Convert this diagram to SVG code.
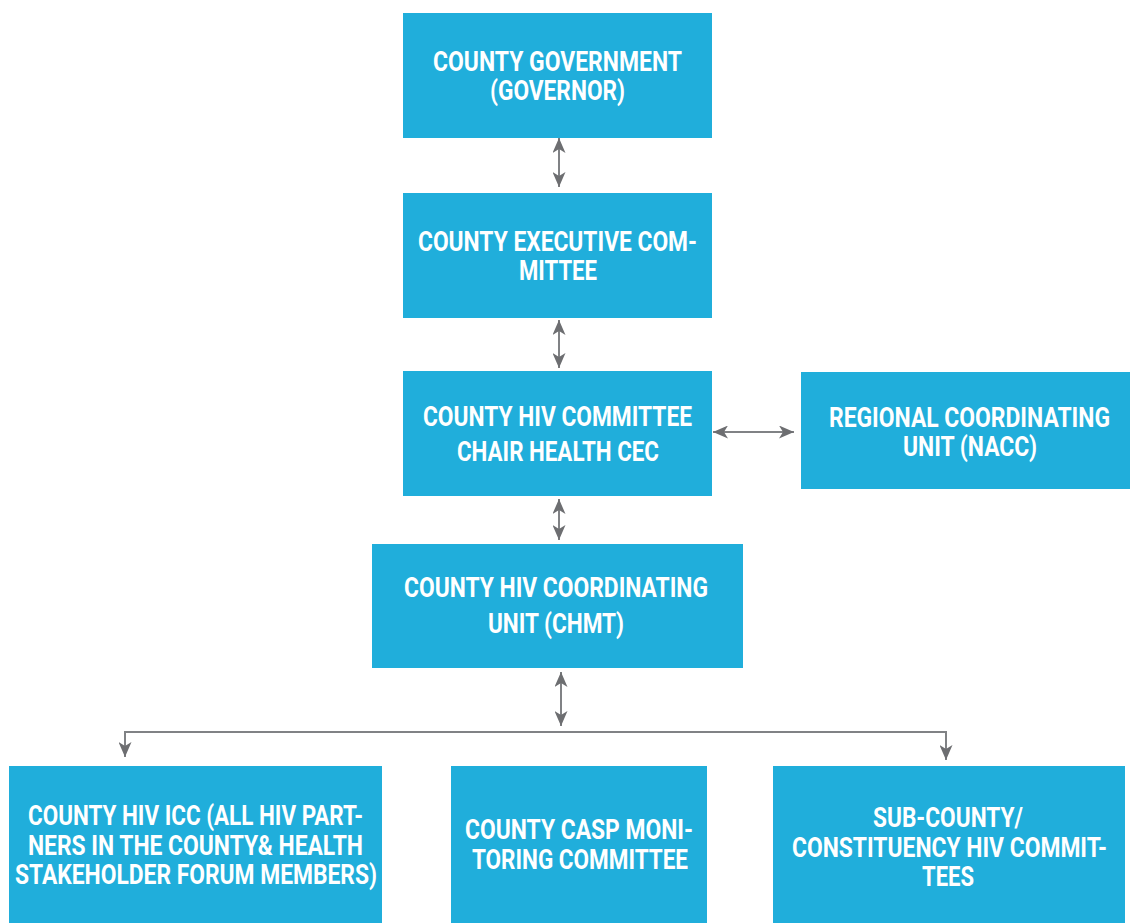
<svg xmlns="http://www.w3.org/2000/svg" width="1130" height="923" viewBox="0 0 1130 923">
<style>
.box{fill:#20aedb;}
.lbl{font-family:Roboto,"Liberation Sans",sans-serif;font-weight:bold;font-size:27px;fill:#ffffff;}
.con{fill:none;stroke:#808285;stroke-width:2;}
</style>
<defs>
<marker id="ah" viewBox="0 0 15 13" refX="15" refY="6.5" markerWidth="15" markerHeight="13" markerUnits="userSpaceOnUse" orient="auto-start-reverse">
<path d="M0,0 L15,6.5 L0,13 L4,6.5 z" fill="#6d6e71"/>
</marker>
</defs>
<rect width="1130" height="923" fill="#ffffff"/>
<g id="connectors">
<line class="con" x1="559" y1="138" x2="559" y2="187" marker-start="url(#ah)" marker-end="url(#ah)"/>
<line class="con" x1="559" y1="320" x2="559" y2="368" marker-start="url(#ah)" marker-end="url(#ah)"/>
<line class="con" x1="559" y1="499" x2="559" y2="540" marker-start="url(#ah)" marker-end="url(#ah)"/>
<line class="con" x1="713" y1="432" x2="794" y2="432" marker-start="url(#ah)" marker-end="url(#ah)"/>
<line class="con" x1="561" y1="672" x2="561" y2="726" marker-start="url(#ah)" marker-end="url(#ah)"/>
<polyline class="con" points="125,757 125,732 946,732 946,760"/>
<line class="con" x1="125" y1="745" x2="125" y2="757" marker-end="url(#ah)"/>
<line class="con" x1="946" y1="745" x2="946" y2="760" marker-end="url(#ah)"/>
</g>
<g id="county-government">
<rect class="box" x="403" y="13" width="309" height="125"/>
<text class="lbl" x="433" y="71" textLength="249" lengthAdjust="spacingAndGlyphs">COUNTY GOVERNMENT</text>
<text class="lbl" x="490" y="100" textLength="135" lengthAdjust="spacingAndGlyphs">(GOVERNOR)</text>
</g>
<g id="county-executive-committee">
<rect class="box" x="403" y="193" width="309" height="125"/>
<text class="lbl" x="418" y="251" textLength="279" lengthAdjust="spacingAndGlyphs">COUNTY EXECUTIVE COM-</text>
<text class="lbl" x="519" y="280" textLength="78" lengthAdjust="spacingAndGlyphs">MITTEE</text>
</g>
<g id="county-hiv-committee">
<rect class="box" x="403" y="371" width="309" height="125"/>
<text class="lbl" x="423" y="426" textLength="269" lengthAdjust="spacingAndGlyphs">COUNTY HIV COMMITTEE</text>
<text class="lbl" x="457" y="461" textLength="202" lengthAdjust="spacingAndGlyphs">CHAIR HEALTH CEC</text>
</g>
<g id="regional-coordinating-unit">
<rect class="box" x="801" y="372" width="329" height="117"/>
<text class="lbl" x="829" y="427" textLength="281" lengthAdjust="spacingAndGlyphs">REGIONAL COORDINATING</text>
<text class="lbl" x="903" y="456" textLength="134" lengthAdjust="spacingAndGlyphs">UNIT (NACC)</text>
</g>
<g id="county-hiv-coordinating-unit">
<rect class="box" x="372" y="544" width="371" height="124"/>
<text class="lbl" x="404" y="597" textLength="304" lengthAdjust="spacingAndGlyphs">COUNTY HIV COORDINATING</text>
<text class="lbl" x="488" y="633" textLength="136" lengthAdjust="spacingAndGlyphs">UNIT (CHMT)</text>
</g>
<g id="county-hiv-icc">
<rect class="box" x="9" y="766" width="373" height="157"/>
<text class="lbl" x="28" y="825" textLength="335" lengthAdjust="spacingAndGlyphs">COUNTY HIV ICC (ALL HIV PART-</text>
<text class="lbl" x="28" y="855" textLength="335" lengthAdjust="spacingAndGlyphs">NERS IN THE COUNTY&amp; HEALTH</text>
<text class="lbl" x="15" y="884" textLength="362" lengthAdjust="spacingAndGlyphs">STAKEHOLDER FORUM MEMBERS)</text>
</g>
<g id="county-casp-monitoring-committee">
<rect class="box" x="451" y="766" width="256" height="157"/>
<text class="lbl" x="465" y="839" textLength="228" lengthAdjust="spacingAndGlyphs">COUNTY CASP MONI-</text>
<text class="lbl" x="472" y="869" textLength="216" lengthAdjust="spacingAndGlyphs">TORING COMMITTEE</text>
</g>
<g id="sub-county-committees">
<rect class="box" x="773" y="766" width="352" height="157"/>
<text class="lbl" x="873" y="827" textLength="150" lengthAdjust="spacingAndGlyphs">SUB-COUNTY/</text>
<text class="lbl" x="792" y="857" textLength="315" lengthAdjust="spacingAndGlyphs">CONSTITUENCY HIV COMMIT-</text>
<text class="lbl" x="922" y="886" textLength="52" lengthAdjust="spacingAndGlyphs">TEES</text>
</g>
</svg>
